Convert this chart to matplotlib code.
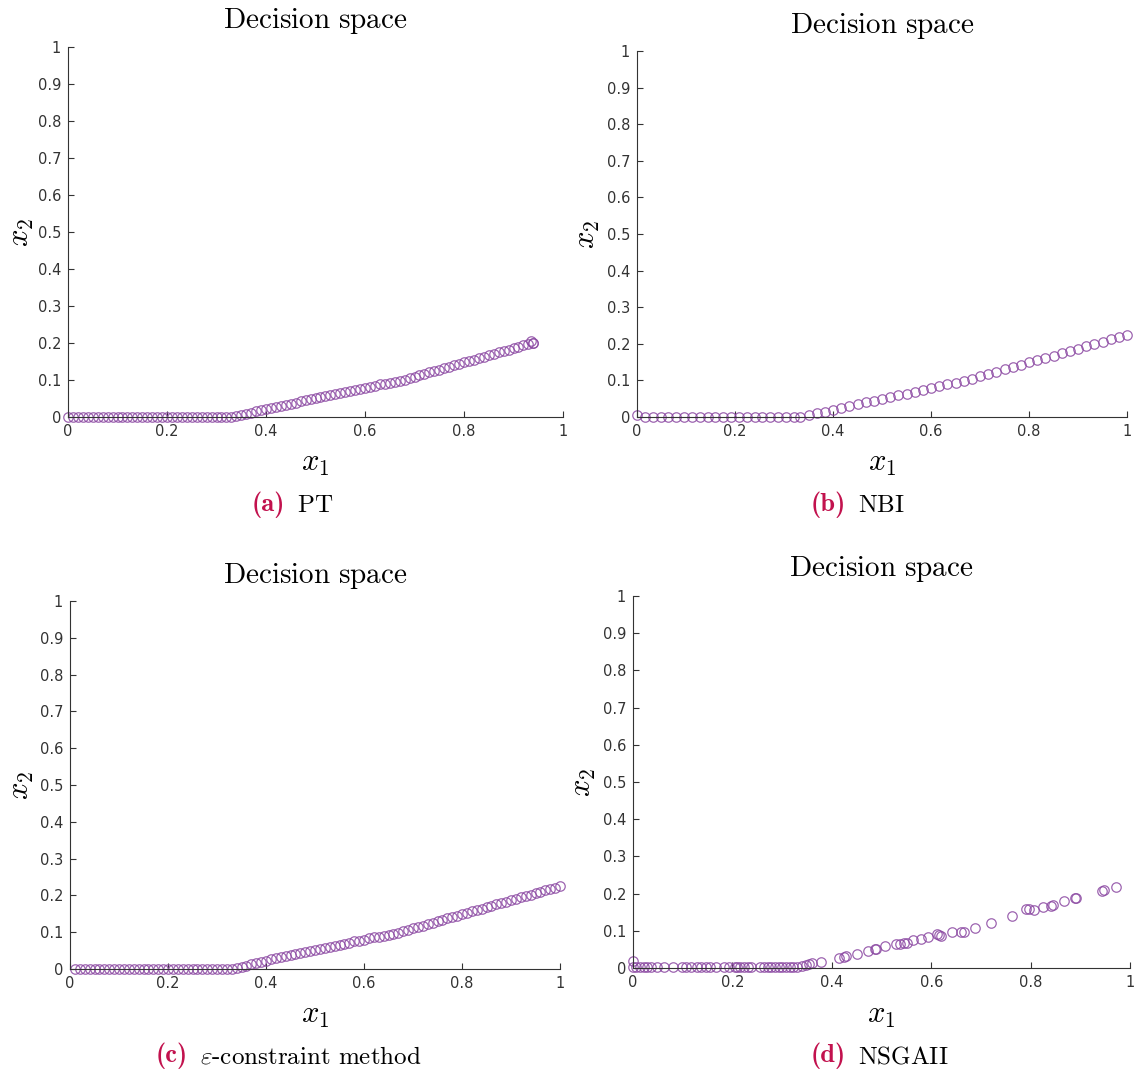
import matplotlib
matplotlib.use("Agg")
import matplotlib.pyplot as plt

plt.rcParams['mathtext.fontset'] = 'cm'
plt.rcParams['font.family'] = ['DejaVu Sans']

# ----------------- data -----------------
# (a) PT
pt_x = [0.00, 0.01, 0.02, 0.03, 0.04, 0.05, 0.06, 0.07, 0.08, 0.09,
        0.10, 0.11, 0.12, 0.13, 0.14, 0.15, 0.16, 0.17, 0.18, 0.19,
        0.20, 0.21, 0.22, 0.23, 0.24, 0.25, 0.26, 0.27, 0.28, 0.29,
        0.30, 0.31, 0.32, 0.33, 0.34, 0.35, 0.36, 0.37, 0.38, 0.39,
        0.40, 0.41, 0.42, 0.43, 0.44, 0.45, 0.46, 0.47, 0.48, 0.49,
        0.50, 0.51, 0.52, 0.53, 0.54, 0.55, 0.56, 0.57, 0.58, 0.59,
        0.60, 0.61, 0.62, 0.63, 0.64, 0.65, 0.66, 0.67, 0.68, 0.69,
        0.70, 0.71, 0.72, 0.73, 0.74, 0.75, 0.76, 0.77, 0.78, 0.79,
        0.80, 0.81, 0.82, 0.83, 0.84, 0.85, 0.86, 0.87, 0.88, 0.89,
        0.90, 0.91, 0.92, 0.93, 0.94, 0.935, 0.94]
pt_y = [0.000, 0.000, 0.000, 0.000, 0.000, 0.000, 0.000, 0.000, 0.000, 0.000,
        0.000, 0.000, 0.000, 0.000, 0.000, 0.000, 0.000, 0.000, 0.000, 0.000,
        0.000, 0.000, 0.000, 0.000, 0.000, 0.000, 0.000, 0.000, 0.000, 0.000,
        0.000, 0.000, 0.000, 0.000, 0.002, 0.006, 0.009, 0.012, 0.015, 0.018,
        0.021, 0.024, 0.027, 0.030, 0.033, 0.036, 0.039, 0.042, 0.045, 0.048,
        0.051, 0.054, 0.057, 0.060, 0.062, 0.065, 0.068, 0.071, 0.074, 0.076,
        0.079, 0.082, 0.085, 0.088, 0.090, 0.092, 0.094, 0.097, 0.101, 0.105,
        0.109, 0.113, 0.117, 0.121, 0.124, 0.128, 0.132, 0.136, 0.140, 0.144,
        0.148, 0.152, 0.155, 0.159, 0.163, 0.167, 0.171, 0.175, 0.178, 0.182,
        0.186, 0.190, 0.194, 0.198, 0.201, 0.205, 0.199]

# (b) NBI
nbi_x = [0.000, 0.016, 0.032, 0.048, 0.064, 0.080, 0.096, 0.112, 0.128, 0.144,
         0.160, 0.176, 0.192, 0.208, 0.224, 0.240, 0.256, 0.272, 0.288, 0.304,
         0.320, 0.333, 0.350, 0.367, 0.383, 0.400, 0.417, 0.433, 0.450, 0.467,
         0.483, 0.500, 0.517, 0.533, 0.550, 0.567, 0.583, 0.600, 0.617, 0.633,
         0.650, 0.667, 0.683, 0.700, 0.717, 0.733, 0.750, 0.767, 0.783, 0.800,
         0.817, 0.833, 0.850, 0.867, 0.883, 0.900, 0.917, 0.933, 0.950, 0.967,
         0.983, 1.000]
nbi_y = [0.005, 0.000, 0.000, 0.000, 0.000, 0.000, 0.000, 0.000, 0.000, 0.000,
         0.000, 0.000, 0.000, 0.000, 0.000, 0.000, 0.000, 0.000, 0.000, 0.000,
         0.000, 0.000, 0.005, 0.010, 0.015, 0.020, 0.025, 0.030, 0.035, 0.040,
         0.045, 0.050, 0.055, 0.059, 0.064, 0.069, 0.074, 0.079, 0.084, 0.089,
         0.094, 0.099, 0.105, 0.111, 0.118, 0.124, 0.130, 0.137, 0.143, 0.149,
         0.156, 0.162, 0.168, 0.175, 0.181, 0.187, 0.194, 0.200, 0.206, 0.213,
         0.219, 0.225]

# (c) epsilon-constraint
eps_x = [0.01, 0.02, 0.03, 0.04, 0.05, 0.06, 0.07, 0.08, 0.09, 0.10,
         0.11, 0.12, 0.13, 0.14, 0.15, 0.16, 0.17, 0.18, 0.19, 0.20,
         0.21, 0.22, 0.23, 0.24, 0.25, 0.26, 0.27, 0.28, 0.29, 0.30,
         0.31, 0.32, 0.33, 0.34, 0.35, 0.36, 0.37, 0.38, 0.39, 0.40,
         0.41, 0.42, 0.43, 0.44, 0.45, 0.46, 0.47, 0.48, 0.49, 0.50,
         0.51, 0.52, 0.53, 0.54, 0.55, 0.56, 0.57, 0.58, 0.59, 0.60,
         0.61, 0.62, 0.63, 0.64, 0.65, 0.66, 0.67, 0.68, 0.69, 0.70,
         0.71, 0.72, 0.73, 0.74, 0.75, 0.76, 0.77, 0.78, 0.79, 0.80,
         0.81, 0.82, 0.83, 0.84, 0.85, 0.86, 0.87, 0.88, 0.89, 0.90,
         0.91, 0.92, 0.93, 0.94, 0.95, 0.96, 0.97, 0.98, 0.99, 1.00]
eps_y = [0.000, 0.000, 0.000, 0.000, 0.000, 0.000, 0.000, 0.000, 0.000, 0.000,
         0.000, 0.000, 0.000, 0.000, 0.000, 0.000, 0.000, 0.000, 0.000, 0.000,
         0.000, 0.000, 0.000, 0.000, 0.000, 0.000, 0.000, 0.000, 0.000, 0.000,
         0.000, 0.000, 0.000, 0.002, 0.005, 0.009, 0.013, 0.017, 0.020, 0.023,
         0.026, 0.029, 0.032, 0.035, 0.038, 0.041, 0.043, 0.046, 0.049, 0.052,
         0.055, 0.058, 0.061, 0.063, 0.066, 0.069, 0.072, 0.075, 0.077, 0.080,
         0.083, 0.086, 0.088, 0.091, 0.093, 0.096, 0.099, 0.103, 0.107, 0.111,
         0.115, 0.118, 0.122, 0.126, 0.130, 0.134, 0.138, 0.141, 0.145, 0.149,
         0.153, 0.157, 0.160, 0.164, 0.168, 0.172, 0.176, 0.179, 0.183, 0.187,
         0.191, 0.195, 0.199, 0.202, 0.206, 0.210, 0.214, 0.218, 0.221, 0.225]

# (d) NSGAII
ns_x = [0.000, 0.000, 0.007, 0.015, 0.022, 0.029, 0.037, 0.048, 0.062, 0.081,
        0.099, 0.106, 0.117, 0.128, 0.136, 0.147, 0.154, 0.168, 0.183, 0.194,
        0.205, 0.209, 0.216, 0.223, 0.231, 0.238, 0.256, 0.264, 0.271, 0.278,
        0.286, 0.293, 0.300, 0.308, 0.315, 0.322, 0.330, 0.341, 0.348, 0.355,
        0.361, 0.379, 0.415, 0.425, 0.429, 0.451, 0.473, 0.486, 0.489, 0.508,
        0.530, 0.538, 0.546, 0.552, 0.564, 0.579, 0.593, 0.612, 0.615, 0.619,
        0.641, 0.659, 0.667, 0.689, 0.720, 0.762, 0.791, 0.796, 0.806, 0.824,
        0.842, 0.845, 0.867, 0.889, 0.892, 0.943, 0.947, 0.971]
ns_y = [0.018, 0.003, 0.002, 0.003, 0.002, 0.003, 0.002, 0.002, 0.003, 0.002,
        0.002, 0.003, 0.002, 0.002, 0.003, 0.002, 0.002, 0.003, 0.002, 0.002,
        0.003, 0.002, 0.003, 0.002, 0.002, 0.003, 0.002, 0.002, 0.003, 0.002,
        0.002, 0.003, 0.002, 0.002, 0.003, 0.002, 0.003, 0.005, 0.007, 0.011,
        0.014, 0.016, 0.027, 0.029, 0.032, 0.037, 0.047, 0.050, 0.052, 0.059,
        0.064, 0.064, 0.066, 0.068, 0.075, 0.078, 0.084, 0.091, 0.089, 0.087,
        0.096, 0.096, 0.096, 0.108, 0.121, 0.140, 0.158, 0.158, 0.155, 0.164,
        0.167, 0.169, 0.180, 0.187, 0.187, 0.208, 0.210, 0.219]

captions = ['(a)', '(b)', '(c)', '(d)']
methods = [r'$\mathrm{PT}$', r'$\mathrm{NBI}$',
           r'$\varepsilon\text{-constraint method}$', r'$\mathrm{NSGAII}$']
x_ticks = [0, 0.2, 0.4, 0.6, 0.8, 1]
x_tick_labels = ['0', '0.2', '0.4', '0.6', '0.8', '1']
y_ticks = [0, 0.1, 0.2, 0.3, 0.4, 0.5, 0.6, 0.7, 0.8, 0.9, 1]
y_tick_labels = ['0', '0.1', '0.2', '0.3', '0.4', '0.5', '0.6', '0.7', '0.8', '0.9', '1']

# ----------------- layout (pixels) -----------------
W, H = 1139, 1076
fig = plt.figure(figsize=(W / 100, H / 100), dpi=100)

# left, right, top, bottom of each axes box
boxes = [(68, 563, 47, 417), (637, 1127, 51, 417),
         (70, 560, 601, 969), (633, 1130, 596, 968)]
title_y = [21, 26, 576, 569]
ylab_x = [22, 588, 22, 583]
xlab_y = [463, 463, 1015, 1015]
cap_y = [505, 505, 1056, 1056]
cap_start = [297, 858, 200, 858]   # where the method name starts

series = [(pt_x, pt_y), (nbi_x, nbi_y), (eps_x, eps_y), (ns_x, ns_y)]

purple = '#8c4aa3'
axis_col = '#333333'
crimson = '#c2124e'

for i, (l, r, t, b) in enumerate(boxes):
    ax = fig.add_axes([l / W, 1 - b / H, (r - l) / W, (b - t) / H])
    xs, ys = series[i]
    ax.plot(xs, ys, 'o', ms=6.8, mfc='none', mec=purple, mew=0.9,
            alpha=0.85, clip_on=False)

    ax.set_xlim(0, 1)
    ax.set_ylim(0, 1)
    ax.set_xticks(x_ticks)
    ax.set_xticklabels(x_tick_labels)
    ax.set_yticks(y_ticks)
    ax.set_yticklabels(y_tick_labels)
    ax.tick_params(direction='in', length=4, width=0.8, colors=axis_col,
                   labelsize=10.5, pad=5)
    ax.spines['top'].set_visible(False)
    ax.spines['right'].set_visible(False)
    for s in ('left', 'bottom'):
        ax.spines[s].set_color(axis_col)
        ax.spines[s].set_linewidth(0.8)

    cx = (l + r) / 2
    fig.text(cx / W, 1 - title_y[i] / H, r'$\mathrm{Decision\ space}$',
             fontsize=21, ha='center', va='center')
    fig.text(cx / W, 1 - xlab_y[i] / H, r'$x_1$', fontsize=22,
             ha='center', va='center')
    fig.text(ylab_x[i] / W, 1 - ((t + b) / 2) / H, r'$x_2$', fontsize=22,
             ha='center', va='center', rotation=90)

    # caption below each panel: bold crimson tag + method name
    fig.text((cap_start[i] - 12) / W, 1 - cap_y[i] / H, captions[i],
             fontfamily='cmb10', fontsize=19, color=crimson,
             ha='right', va='center')
    fig.text(cap_start[i] / W, 1 - cap_y[i] / H, methods[i],
             fontsize=18, color='black', ha='left', va='center')

fig.savefig('out.png', dpi=100)
